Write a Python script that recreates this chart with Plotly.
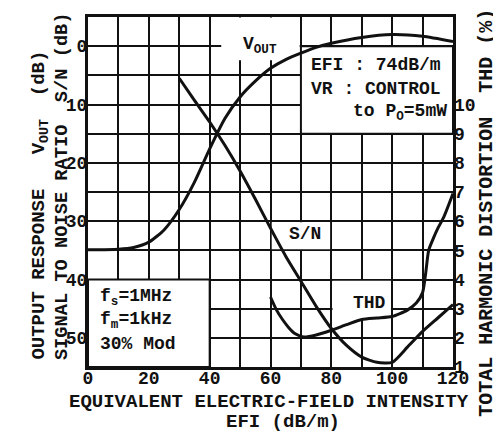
import plotly.graph_objects as go

# ---- data ----
efi_vout = [0, 10, 15, 20, 25, 30, 35, 40, 45, 50, 55, 60, 65, 70, 75, 80, 90, 100, 110, 120]
vout_db = [34.9, 34.8, 34.5, 33.6, 31.5, 28.0, 23.3, 17.6, 12.4, 8.7, 6.0, 3.8, 2.3, 1.2, 0.2, -0.5, -1.5, -2.0, -1.7, -0.8]

efi_sn = [30, 35, 40, 45, 50, 55, 60, 65, 70, 75, 80, 85, 90, 95, 100, 105, 110, 115, 120]
sn_db = [5.5, 9.3, 13.0, 17.0, 21.4, 26.2, 31.2, 36.0, 40.3, 44.6, 48.4, 51.3, 53.3, 54.2, 54.2, 51.6, 48.9, 46.6, 44.3]

efi_thd = [60, 62, 64, 66, 68, 71, 75, 80, 85, 90, 95, 100, 105, 108, 110, 111, 112, 113.5, 115, 117, 120]
thd_pct = [3.4, 2.95, 2.62, 2.35, 2.15, 2.03, 2.1, 2.26, 2.45, 2.63, 2.68, 2.73, 2.95, 3.2, 3.55, 4.2, 5.0, 5.4, 5.75, 6.15, 6.95]

x_ticks = list(range(0, 121, 10))
x_ticktext = [str(v) if v % 20 == 0 else "" for v in x_ticks]
y_ticks = list(range(-5, 56, 5))
y_ticktext = [str(v) if (v % 10 == 0 and v >= 0) else "" for v in y_ticks]
thd_ticks = list(range(1, 11))
thd_ticktext = [str(v) for v in thd_ticks]

FONT = "Liberation Mono"
BLACK = "#111111"

fig = go.Figure()
line_style = dict(color=BLACK, width=3, shape="spline", smoothing=0.6)
fig.add_trace(go.Scatter(x=efi_vout, y=vout_db, mode="lines", line=line_style, yaxis="y", hoverinfo="skip"))
fig.add_trace(go.Scatter(x=efi_sn, y=sn_db, mode="lines", line=line_style, yaxis="y", hoverinfo="skip"))
fig.add_trace(go.Scatter(x=efi_thd, y=thd_pct, mode="lines", line=line_style, yaxis="y2", hoverinfo="skip"))

# white label boxes (above grid, below curves)
boxes = [
    dict(x0=43.8, x1=69.6, y0=-4.9, y1=2.4, line=dict(width=0)),          # V_OUT label
    dict(x0=70, x1=120, y0=0, y1=15, line=dict(color=BLACK, width=2)),       # EFI box
    dict(x0=0, x1=40, y0=40, y1=55, line=dict(color=BLACK, width=2)),        # fs box
    dict(x0=60.4, x1=79.6, y0=30.2, y1=34.8, line=dict(width=0)),           # S/N label
    dict(x0=80.4, x1=99.6, y0=40.2, y1=46.6, line=dict(width=0)),           # THD label
]
for b in boxes:
    fig.add_shape(type="rect", xref="x", yref="y", x0=b["x0"], x1=b["x1"], y0=b["y0"], y1=b["y1"],
                  fillcolor="white", line=b["line"], layer="between")

tf = dict(family=FONT, size=18, color=BLACK, weight="bold")
ann = []
def label(text, x, y, xanchor="center", size=18):
    ann.append(dict(text=text, x=x, y=y, xref="x", yref="y", xanchor=xanchor, yanchor="middle",
                    showarrow=False, font=dict(family=FONT, size=size, color=BLACK, weight="bold")))

label("V<sub>OUT</sub>", 56.5, -0.2)
label("EFI : 74dB/m", 72.8, 3.2, xanchor="left")
label("VR : CONTROL", 72.8, 7.4, xanchor="left")
label("to P<sub>O</sub>=5mW", 118.6, 11.3, xanchor="right")
label("f<sub>s</sub>=1MHz", 3.4, 43.1, xanchor="left")
label("f<sub>m</sub>=1kHz", 3.4, 47.0, xanchor="left")
label("30% Mod", 3.4, 51.1, xanchor="left")
label("S/N", 71.3, 32.2)
label("THD", 92.4, 44.1)

def ptitle(text, x, y, angle=0, xanchor="center", yanchor="middle", size=19):
    ann.append(dict(text=text, x=x, y=y, xref="paper", yref="paper", xanchor=xanchor, yanchor=yanchor,
                    textangle=angle, showarrow=False,
                    font=dict(family=FONT, size=size, color=BLACK, weight="bold")))

ptitle("OUTPUT RESPONSE   V<sub>OUT</sub>  (dB)", -0.1315, 0.014, angle=-90, yanchor="bottom")
ptitle("SIGNAL TO NOISE RATIO  S/N (dB)", -0.0712, 0.014, angle=-90, yanchor="bottom", size=18.7)
ptitle("TOTAL HARMONIC DISTORTION  THD (%)", 1.09, 0.44, angle=-90, size=20)
ptitle("EQUIVALENT ELECTRIC-FIELD INTENSITY", 0.496, -0.099)
ptitle("EFI (dB/m)", 0.534, -0.157)

# the page body has an 8px margin, so the figure is sized to fill the 501x433 window from (8, 8)
fig.update_layout(
    width=493, height=425, autosize=False,
    margin=dict(l=80, r=48, t=6, b=66, pad=0),
    paper_bgcolor="white", plot_bgcolor="white",
    showlegend=False,
    font=dict(family=FONT, size=18, color=BLACK, weight="bold"),
    annotations=ann,
    xaxis=dict(range=[0, 120], tickvals=x_ticks, ticktext=x_ticktext, showgrid=True,
               gridcolor=BLACK, gridwidth=2, showline=True, linecolor=BLACK, linewidth=3,
               mirror=True, ticks="", zeroline=False, tickfont=tf, ticklabelstandoff=-8),
    yaxis=dict(range=[55, -5], tickvals=y_ticks, ticktext=y_ticktext, showgrid=True,
               gridcolor=BLACK, gridwidth=2, showline=True, linecolor=BLACK, linewidth=3,
               mirror=True, ticks="", zeroline=False, tickfont=tf, ticklabelstandoff=-6),
    yaxis2=dict(range=[1, 13], overlaying="y", side="right", tickvals=thd_ticks,
                ticktext=thd_ticktext, showgrid=False, zeroline=False, showline=False,
                ticks="", tickfont=tf),
)

fig.write_html("out.html")
